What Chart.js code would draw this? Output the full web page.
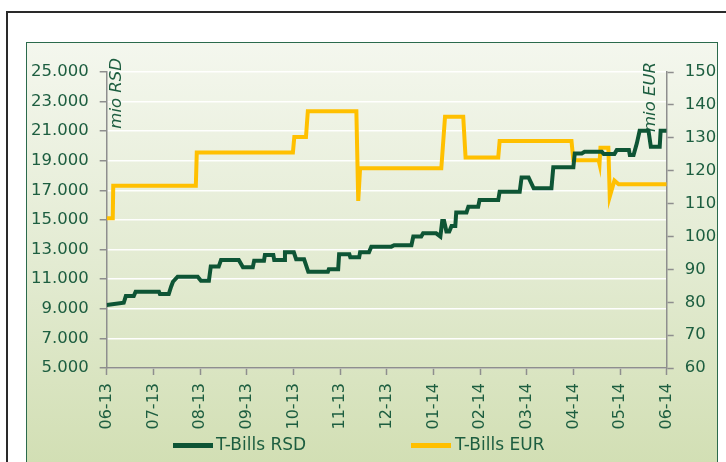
<!DOCTYPE html>
<html>
<head>
<meta charset="utf-8">
<script src="https://cdn.jsdelivr.net/npm/chart.js@4"></script>
<style>
  body { margin:0; background:#fff; width:726px; height:462px; overflow:hidden; position:relative; font-family:"DejaVu Sans", sans-serif; }
  #frame { position:absolute; left:6px; top:11px; width:800px; height:600px; border:2px solid #2a2a2a; }
  #panel { position:absolute; left:26px; top:42px; width:690px; height:460px; border:1.5px solid #2b6a4c;
           background:linear-gradient(to bottom, #f4f7ee 0px, #e3ebd2 220px, #d2dfb4 420px); }
  #chart { position:absolute; left:26px; top:42px; }
  .legend { position:absolute; top:436px; font-size:17px; color:#1d5e40; line-height:17px; white-space:nowrap; }
  .legend i { position:absolute; top:7px; width:40px; height:5px; }
</style>
</head>
<body>
<div id="frame"></div>
<div id="panel"></div>
<canvas id="chart" width="692" height="420"></canvas>
<div class="legend" style="left:173px"><i style="left:0;background:#0e5535"></i><span style="margin-left:43px">T-Bills RSD</span></div>
<div class="legend" style="left:411px"><i style="left:0;background:#ffc000"></i><span style="margin-left:44px">T-Bills EUR</span></div>
<script>
var monthLabels = ['06-13','07-13','08-13','09-13','10-13','11-13','12-13','01-14','02-14','03-14','04-14','05-14','06-14'];

// x in months since 06-13
var rsdMonths = [0, 0.365, 0.41, 0.58, 0.62, 1.12, 1.14, 1.33, 1.38, 1.42, 1.52, 1.95, 2.02, 2.19, 2.23, 2.40, 2.45, 2.83, 2.92, 3.13,
  3.16, 3.37, 3.39, 3.57, 3.59, 3.80, 3.82, 4.01, 4.06, 4.23, 4.32, 4.74, 4.76, 4.96, 4.98, 5.20, 5.22, 5.41, 5.43, 5.62,
  5.67, 6.10, 6.16, 6.53, 6.57, 6.74, 6.78, 7.06, 7.15, 7.19, 7.23, 7.28, 7.34, 7.39, 7.47, 7.49, 7.71, 7.75, 7.96, 7.99,
  8.39, 8.42, 8.85, 8.89, 9.04, 9.15, 9.53, 9.57, 10.00, 10.03, 10.18, 10.24, 10.61, 10.65, 10.88, 10.93, 11.19, 11.21, 11.29, 11.36,
  11.42, 11.61, 11.66, 11.85, 11.87, 12];
var rsdValues = [9250, 9410, 9860, 9860, 10160, 10160, 10000, 10000, 10490, 10830, 11170, 11170, 10900, 10900, 11850, 11850, 12300, 12300, 11800, 11800,
  12250, 12250, 12640, 12640, 12300, 12300, 12820, 12820, 12340, 12340, 11500, 11500, 11670, 11670, 12680, 12680, 12480, 12480, 12820, 12820,
  13200, 13200, 13300, 13300, 13880, 13880, 14100, 14100, 13880, 14930, 14930, 14220, 14220, 14600, 14600, 15510, 15510, 15900, 15900, 16350,
  16350, 16910, 16910, 17880, 17880, 17140, 17140, 18560, 18560, 19500, 19500, 19610, 19610, 19460, 19460, 19730, 19730, 19390, 19390, 20180,
  21030, 21030, 19950, 19950, 21030, 21030];

var eurMonths = [0, 0.13, 0.14, 1.91, 1.93, 3.99, 4.02, 4.27, 4.31, 5.35, 5.39, 5.43, 7.17, 7.21, 7.25, 7.64, 7.69, 8.39, 8.42, 9.96,
  10.00, 10.54, 10.56, 10.58, 10.75, 10.78, 10.88, 10.97, 12];
var eurValues = [105.5, 105.5, 115.4, 115.4, 125.5, 125.5, 130.2, 130.2, 138.1, 138.1, 110.8, 120.7, 120.7, 128.5, 136.4, 136.4, 124, 124, 129, 129,
  123.2, 123.2, 122, 127, 127, 112.1, 117, 115.9, 115.9];

var textColor = '#1d5e40';
var axisGrey = '#8e8e8e';
var tickFont = { family: 'DejaVu Sans', size: 16.5 };

function thousands(v) {
  return String(v).replace(/\B(?=(\d{3})+(?!\d))/g, '.');
}

var axisTitles = {
  id: 'axisTitles',
  beforeDatasetsDraw: function(chart) {
    var ctx = chart.ctx;
    ctx.save();
    ctx.fillStyle = textColor;
    ctx.font = 'italic 16.5px "DejaVu Sans"';
    ctx.textAlign = 'right';
    ctx.textBaseline = 'middle';
    [['mio RSD', 90.7, 16], ['mio EUR', 624.7, 20]].forEach(function(t) {
      ctx.save();
      ctx.translate(t[1], t[2]);
      ctx.rotate(-Math.PI / 2);
      ctx.fillText(t[0], 0, 0);
      ctx.restore();
    });
    ctx.restore();
  }
};

new Chart(document.getElementById('chart'), {
  type: 'line',
  data: {
    datasets: [{
      label: 'T-Bills RSD',
      data: rsdMonths.map(function(m, i) { return { x: m, y: rsdValues[i] }; }),
      borderColor: '#0e5535',
      backgroundColor: '#0e5535',
      borderWidth: 4,
      pointRadius: 0,
      fill: false,
      tension: 0,
      yAxisID: 'y'
    }, {
      label: 'T-Bills EUR',
      data: eurMonths.map(function(m, i) { return { x: m, y: eurValues[i] }; }),
      borderColor: '#ffc000',
      backgroundColor: '#ffc000',
      borderWidth: 4,
      pointRadius: 0,
      fill: false,
      tension: 0,
      yAxisID: 'y1'
    }]
  },
  options: {
    responsive: false,
    animation: false,
    devicePixelRatio: 1,
    layout: { padding: { top: 30, right: 0, bottom: 0, left: 0 } },
    plugins: { legend: { display: false }, tooltip: { enabled: false } },
    scales: {
      x: {
        type: 'linear',
        min: 0, max: 12,
        afterFit: function(s) { s.height = 94; },
        border: { color: axisGrey, width: 1.5 },
        grid: { drawOnChartArea: false, tickLength: 7, tickColor: axisGrey, tickWidth: 1.5 },
        ticks: {
          stepSize: 1, autoSkip: false, minRotation: 90, maxRotation: 90, padding: 8,
          color: textColor, font: { family: 'DejaVu Sans', size: 16 },
          callback: function(v) { return monthLabels[v]; }
        }
      },
      y: {
        position: 'left',
        min: 5000, max: 25000,
        afterFit: function(s) { s.width = 80.7; },
        border: { color: axisGrey, width: 1.5 },
        grid: { color: 'rgba(255,255,255,0.95)', lineWidth: 1.5, borderDash: [6, 3], tickLength: 7, tickColor: axisGrey, tickWidth: 1.5, tickBorderDash: [] },
        ticks: { stepSize: 2000, padding: 11, color: textColor, font: tickFont, callback: function(v) { return thousands(v); } }
      },
      y1: {
        position: 'right',
        min: 60, max: 150,
        afterFit: function(s) { s.width = 51.3; },
        border: { color: axisGrey, width: 1.5 },
        grid: { drawOnChartArea: false, tickLength: 7, tickColor: axisGrey, tickWidth: 1.5 },
        ticks: { stepSize: 10, padding: 11, color: textColor, font: tickFont }
      }
    }
  },
  plugins: [axisTitles]
});
</script>
</body>
</html>
